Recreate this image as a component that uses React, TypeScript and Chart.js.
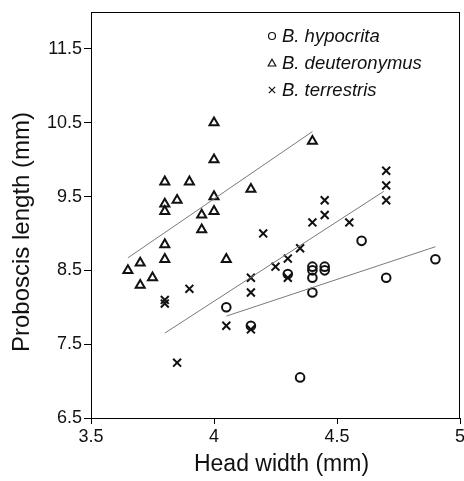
import React, { useEffect, useRef } from "react";
import { Chart, registerables } from "chart.js";

Chart.register(...registerables);

// B. hypocrita (circles)
const hypX = [4.6, 4.9, 4.4, 4.45, 4.4, 4.45, 4.4, 4.3, 4.7, 4.4, 4.05, 4.15, 4.35];
const hypY = [8.9, 8.65, 8.55, 8.55, 8.5, 8.5, 8.4, 8.45, 8.4, 8.2, 8.0, 7.75, 7.05];
// B. deuteronymus (triangles)
const deuX = [4.0, 4.0, 3.8, 3.9, 3.8, 3.8, 3.85, 4.0, 4.0, 3.95, 3.95, 4.15, 3.8, 3.8, 4.05, 3.7, 3.65, 3.75, 3.7, 4.4];
const deuY = [10.5, 10.0, 9.7, 9.7, 9.4, 9.3, 9.45, 9.5, 9.3, 9.25, 9.05, 9.6, 8.85, 8.65, 8.65, 8.6, 8.5, 8.4, 8.3, 10.25];
// B. terrestris (crosses)
const terX = [4.7, 4.7, 4.7, 4.45, 4.45, 4.4, 4.55, 4.2, 4.35, 4.3, 4.25, 4.3, 4.15, 4.15, 4.05, 4.15, 3.9, 3.85, 3.8, 3.8];
const terY = [9.85, 9.65, 9.45, 9.45, 9.25, 9.15, 9.15, 9.0, 8.8, 8.66, 8.55, 8.4, 8.4, 8.2, 7.75, 7.7, 8.25, 7.25, 8.1, 8.05];

// regression line endpoints
const hypLineX = [4.05, 4.9];
const hypLineY = [7.88, 8.82];
const deuLineX = [3.65, 4.4];
const deuLineY = [8.67, 10.38];
const terLineX = [3.8, 4.69];
const terLineY = [7.65, 9.57];

const seriesNames = ["B. hypocrita", "B. deuteronymus", "B. terrestris"];
const xTicks = [3.5, 4, 4.5, 5];
const yTicks = [6.5, 7.5, 8.5, 9.5, 10.5, 11.5];
const xTitle = "Head width (mm)";
const yTitle = "Proboscis length (mm)";

const pts = (xs: number[], ys: number[]) => xs.map((x, i) => ({ x, y: ys[i] }));

const FONT = "'Liberation Sans', Arial, sans-serif";

const framePlugin = {
  id: "frame",
  afterDatasetsDraw(chart: any) {
    const { ctx, chartArea } = chart;
    const { left, right, top, bottom } = chartArea;
    ctx.save();
    ctx.strokeStyle = "#000";
    ctx.lineWidth = 1;
    ctx.beginPath();
    ctx.moveTo(left, top + 0.5);
    ctx.lineTo(right, top + 0.5);
    ctx.moveTo(right - 0.5, top);
    ctx.lineTo(right - 0.5, bottom);
    ctx.stroke();

    // axis titles
    ctx.fillStyle = "#111";
    ctx.textAlign = "center";
    ctx.textBaseline = "middle";
    ctx.font = `23px ${FONT}`;
    ctx.fillText(xTitle, (left + right) / 2 + 6, bottom + 47);
    ctx.save();
    ctx.translate(22, (top + bottom) / 2 + 17);
    ctx.rotate(-Math.PI / 2);
    ctx.font = `24px ${FONT}`;
    ctx.fillText(yTitle, 0, 0);
    ctx.restore();

    // legend
    const markers = ["circle", "triangle", "cross"];
    const mx = left + 181;
    const tx = left + 191;
    const rows = [top + 24, top + 51, top + 78];
    ctx.font = `italic 18.5px ${FONT}`;
    ctx.fillStyle = "#111";
    ctx.textBaseline = "middle";
    ctx.textAlign = "left";
    ctx.lineWidth = 1.2;
    ctx.strokeStyle = "#111";
    markers.forEach((m, i) => {
      const y = rows[i];
      ctx.beginPath();
      if (m === "circle") {
        ctx.arc(mx, y, 3.5, 0, Math.PI * 2);
      } else if (m === "triangle") {
        ctx.moveTo(mx, y - 3.8);
        ctx.lineTo(mx + 3.8, y + 3);
        ctx.lineTo(mx - 3.8, y + 3);
        ctx.closePath();
      } else {
        ctx.moveTo(mx - 3.2, y - 3.2);
        ctx.lineTo(mx + 3.2, y + 3.2);
        ctx.moveTo(mx + 3.2, y - 3.2);
        ctx.lineTo(mx - 3.2, y + 3.2);
      }
      ctx.stroke();
      ctx.fillText(seriesNames[i], tx, y + 1);
    });
    ctx.restore();
  },
};

export default function App() {
  const ref = useRef<HTMLCanvasElement | null>(null);
  useEffect(() => {
    if (!ref.current) return;
    const markerCommon = {
      showLine: false,
      borderColor: "#111",
      backgroundColor: "rgba(0,0,0,0)",
      borderWidth: 2,
    };
    const lineCommon = {
      type: "line" as const,
      showLine: true,
      borderColor: "#7a7a7a",
      borderWidth: 1,
      pointRadius: 0,
      fill: false,
    };
    const chart = new Chart(ref.current, {
      type: "scatter",
      data: {
        datasets: [
          { ...lineCommon, label: "hypLine", data: pts(hypLineX, hypLineY) },
          { ...lineCommon, label: "deuLine", data: pts(deuLineX, deuLineY) },
          { ...lineCommon, label: "terLine", data: pts(terLineX, terLineY) },
          { ...markerCommon, label: seriesNames[0], data: pts(hypX, hypY), pointStyle: "circle", pointRadius: 4.3 },
          { ...markerCommon, label: seriesNames[1], data: pts(deuX, deuY), pointStyle: "triangle", pointRadius: 5.2 },
          { ...markerCommon, label: seriesNames[2], data: pts(terX, terY), pointStyle: "crossRot", pointRadius: 5.6 },
        ] as any,
      },
      options: {
        responsive: false,
        animation: false,
        layout: { autoPadding: false, padding: { top: 12, right: 4, left: 0, bottom: 0 } },
        plugins: { legend: { display: false }, tooltip: { enabled: false } },
        scales: {
          x: {
            type: "linear",
            min: 3.5,
            max: 5,
            afterBuildTicks: (s: any) => { s.ticks = xTicks.map((v) => ({ value: v })); },
            afterFit: (s: any) => { s.height = 63; s.paddingRight = 0; s.paddingLeft = 0; },
            grid: { display: true, drawOnChartArea: false, drawTicks: true, tickLength: 6, color: "#000" },
            border: { display: true, color: "#000", width: 1 },
            ticks: {
              color: "#111",
              font: { family: FONT, size: 18 },
              padding: 2,
              maxRotation: 0,
              callback: (v: any) => String(v),
            },
            title: { display: false },
          },
          y: {
            type: "linear",
            min: 6.5,
            max: 12,
            afterBuildTicks: (s: any) => { s.ticks = yTicks.map((v) => ({ value: v })); },
            afterFit: (s: any) => { s.width = 91; s.paddingTop = 0; s.paddingBottom = 0; },
            grid: { display: true, drawOnChartArea: false, drawTicks: true, tickLength: 7, color: "#000" },
            border: { display: true, color: "#000", width: 1 },
            ticks: {
              color: "#111",
              font: { family: FONT, size: 18 },
              padding: 2,
              callback: (v: any) => String(v),
            },
            title: { display: false },
          },
        },
      },
      plugins: [framePlugin],
    });
    return () => chart.destroy();
  }, []);
  return (
    <div style={{ position: "fixed", left: 0, top: 0, width: 464, height: 481, background: "#fff" }}>
      <canvas ref={ref} width={464} height={481} style={{ width: 464, height: 481 }} />
    </div>
  );
}
